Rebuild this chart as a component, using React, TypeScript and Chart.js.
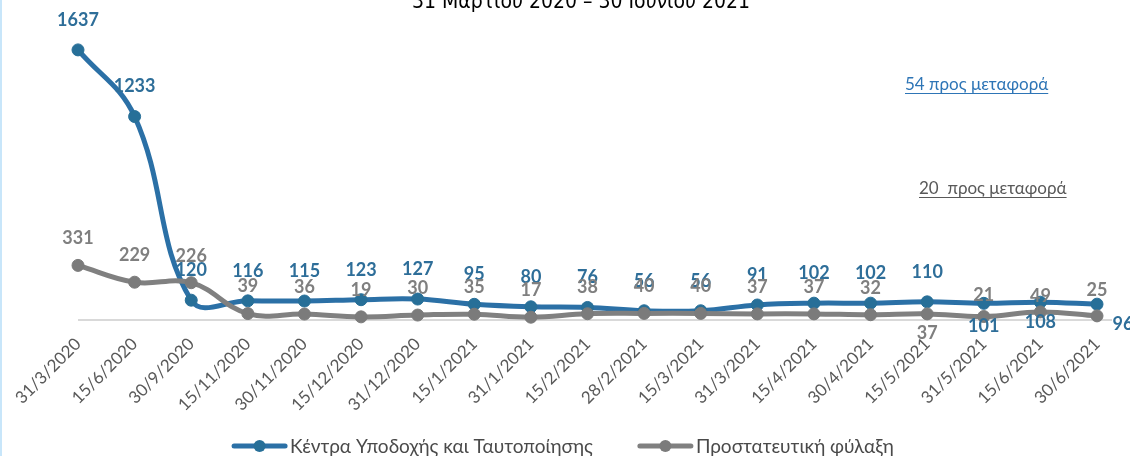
import React, { useEffect, useRef } from "react";
import { Chart, registerables } from "chart.js";

Chart.register(...registerables);

const categories = [
  "31/3/2020", "15/6/2020", "30/9/2020", "15/11/2020", "30/11/2020", "15/12/2020",
  "31/12/2020", "15/1/2021", "31/1/2021", "15/2/2021", "28/2/2021", "15/3/2021",
  "31/3/2021", "15/4/2021", "30/4/2021", "15/5/2021", "31/5/2021", "15/6/2021", "30/6/2021",
];
const receptionCentres = [1637, 1233, 120, 116, 115, 123, 127, 95, 80, 76, 56, 56, 91, 102, 102, 110, 101, 108, 96];
const protectiveCustody = [331, 229, 226, 39, 36, 19, 30, 35, 17, 38, 40, 40, 37, 37, 32, 37, 21, 49, 25];
const seriesNames = ["Κέντρα Υποδοχής και Ταυτοποίησης", "Προστατευτική φύλαξη"];
const titleText = "31 Μαρτίου 2020 – 30 Ιουνίου 2021";
const noteBlue = "54 προς μεταφορά";
const noteGray = "20  προς μεταφορά";

const BLUE_LINE = "#2b70a6";
const BLUE_POINT = "#276f98";
const BLUE_TEXT = "#2e6e99";
const GRAY_LINE = "#808080";
const GRAY_POINT = "#7b7b7b";
const GRAY_TEXT = "#7f7f7f";
const FONT = "Lato, 'Open Sans', 'Noto Sans', sans-serif";

// label offsets (dx, dy) relative to the point
const blueLabelDefault = [0, -30];
const blueLabelOverrides: Record<number, number[]> = { 16: [0, 23], 17: [0, 20], 18: [26, 20] };
const grayLabelDefault = [0, -27];
const grayLabelOverrides: Record<number, number[]> = { 15: [0, 19], 16: [0, -21], 17: [0, -16], 18: [0, -26] };

const decorPlugin = {
  id: "decor",
  beforeDraw(chart: any) {
    const { ctx, chartArea } = chart;
    ctx.save();
    ctx.fillStyle = "#ffffff";
    ctx.fillRect(0, 0, chart.width, chart.height);
    // left border
    ctx.fillStyle = "#c8e6fa";
    ctx.fillRect(0, 0, 2, chart.height);
    // title (partially cut at top)
    ctx.fillStyle = "#000000";
    ctx.font = "21px 'Liberation Sans Narrow', 'DejaVu Sans Condensed', 'Liberation Sans', sans-serif";
    ctx.textAlign = "center";
    ctx.textBaseline = "alphabetic";
    ctx.fillText(titleText, 581, 8);
    // axis line
    ctx.strokeStyle = "#d9d9d9";
    ctx.lineWidth = 2;
    ctx.beginPath();
    ctx.moveTo(chartArea.left, chartArea.bottom);
    ctx.lineTo(chartArea.right + 15, chartArea.bottom);
    ctx.stroke();
    ctx.restore();
  },
  afterDatasetsDraw(chart: any) {
    const { ctx } = chart;
    ctx.save();
    ctx.font = `bold 18px ${FONT}`;
    ctx.textAlign = "center";
    ctx.textBaseline = "middle";
    const drawLabels = (dsIndex: number, values: number[], color: string, def: number[], over: Record<number, number[]>) => {
      const meta = chart.getDatasetMeta(dsIndex);
      ctx.fillStyle = color;
      meta.data.forEach((pt: any, i: number) => {
        const off = over[i] || def;
        ctx.fillText(String(values[i]), pt.x + off[0], pt.y + off[1]);
      });
    };
    drawLabels(0, receptionCentres, BLUE_TEXT, blueLabelDefault, blueLabelOverrides);
    drawLabels(1, protectiveCustody, GRAY_TEXT, grayLabelDefault, grayLabelOverrides);

    // notes
    const note = (text: string, x: number, y: number, color: string) => {
      ctx.font = `17px ${FONT}`;
      ctx.textAlign = "left";
      ctx.textBaseline = "middle";
      ctx.fillStyle = color;
      ctx.fillText(text, x, y);
      const w = ctx.measureText(text).width;
      ctx.strokeStyle = color;
      ctx.lineWidth = 1;
      ctx.beginPath();
      ctx.moveTo(x, y + 8.5);
      ctx.lineTo(x + w, y + 8.5);
      ctx.stroke();
    };
    note(noteBlue, 905, 85, "#2e75b6");
    note(noteGray, 919, 189, "#595959");

    // legend
    ctx.font = `19px ${FONT}`;
    const sampleW = 55;
    const gap = 3;
    const itemGap = 45;
    const colors = [[BLUE_LINE, BLUE_POINT], [GRAY_LINE, GRAY_POINT]];
    const widths = seriesNames.map((n) => sampleW + gap + ctx.measureText(n).width);
    const total = widths[0] + widths[1] + itemGap;
    let x = 563 - total / 2;
    const y = 446;
    seriesNames.forEach((n, i) => {
      ctx.strokeStyle = colors[i][0];
      ctx.lineWidth = 5;
      ctx.lineCap = "round";
      ctx.beginPath();
      ctx.moveTo(x + 2, y);
      ctx.lineTo(x + sampleW - 2, y);
      ctx.stroke();
      ctx.fillStyle = colors[i][1];
      ctx.beginPath();
      ctx.arc(x + sampleW / 2, y, 6, 0, Math.PI * 2);
      ctx.fill();
      ctx.fillStyle = "#4a4a4a";
      ctx.textAlign = "left";
      ctx.textBaseline = "middle";
      ctx.fillText(n, x + sampleW + gap, y + 1);
      x += widths[i] + itemGap;
    });
    ctx.restore();
  },
};

export default function App() {
  const ref = useRef<HTMLCanvasElement | null>(null);
  useEffect(() => {
    if (!ref.current) return;
    const chart = new Chart(ref.current, {
      type: "line",
      data: {
        labels: categories,
        datasets: [
          {
            label: seriesNames[0],
            data: receptionCentres,
            borderColor: BLUE_LINE,
            backgroundColor: BLUE_POINT,
            pointBackgroundColor: BLUE_POINT,
            pointBorderColor: BLUE_POINT,
            borderWidth: 5,
            pointRadius: 6,
            pointBorderWidth: 1,
            tension: 0.4,
            clip: false,
            order: 2,
          },
          {
            label: seriesNames[1],
            data: protectiveCustody,
            borderColor: GRAY_LINE,
            backgroundColor: GRAY_POINT,
            pointBackgroundColor: GRAY_POINT,
            pointBorderColor: GRAY_POINT,
            borderWidth: 5,
            pointRadius: 6,
            pointBorderWidth: 1,
            tension: 0.4,
            clip: false,
            order: 1,
          },
        ],
      },
      options: {
        responsive: false,
        animation: false,
        layout: { padding: { top: 23, left: 78, right: 33, bottom: 0 } },
        plugins: { legend: { display: false }, tooltip: { enabled: false }, title: { display: false } },
        scales: {
          x: {
            offset: false,
            grid: { display: false },
            border: { display: false },
            ticks: {
              minRotation: 45,
              maxRotation: 45,
              autoSkip: false,
              padding: 6,
              color: "#595959",
              font: { family: FONT, size: 17 },
            },
            afterFit: (s: any) => {
              s.height = 136;
            },
          },
          y: { display: false, min: 0, max: 1800 },
        },
      },
      plugins: [decorPlugin],
    });
    return () => chart.destroy();
  }, []);
  return (
    <div style={{ position: "fixed", left: 0, top: 0, width: 1130, height: 456, overflow: "hidden", background: "#fff" }}>
      <canvas ref={ref} width={1130} height={456} style={{ display: "block" }} />
    </div>
  );
}
